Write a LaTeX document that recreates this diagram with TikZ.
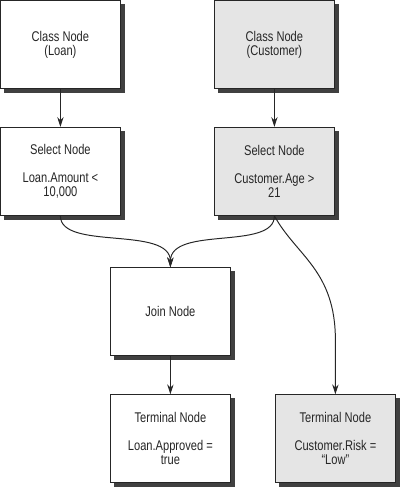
\documentclass[tikz,border=0pt]{standalone}
\usepackage{fontspec}
\setmainfont{Liberation Sans}[FakeStretch=0.79]
\usetikzlibrary{arrows.meta, positioning, shadows}

\begin{document}
\begin{tikzpicture}[
    node distance=3.175cm,
    netbox/.style={rectangle, draw=black!85, line width=0.7pt, fill=white, minimum width=3cm, minimum height=2.2cm, align=center, font=\fontsize{10}{10}\selectfont, text=black!85, copy shadow={shadow xshift=0.09cm, shadow yshift=-0.09cm, fill=black!75, draw=black!75}},
    graybox/.style={netbox, fill=black!10},
    arrow/.style={-{Stealth[length=7pt, width=4.5pt]}, line width=0.7pt, black!85}
]
\useasboundingbox (0,0) rectangle (10,-12.175);

\node[netbox] (classL) at (1.51,-1.11) {Class Node\\(Loan)};
\node[graybox, right of=classL, node distance=5.35cm] (classC) {Class Node\\(Customer)};
\node[netbox, below of=classL] (selL) {Select Node\\[10pt]Loan.Amount <\\10,000};
\node[graybox, below of=classC] (selC) {Select Node\\[10pt]Customer.Age >\\21};
\node[netbox, below of=selL, node distance=3.51cm, xshift=2.75cm] (join) {Join Node};
\node[netbox, below of=join] (termL) {Terminal Node\\[10pt]Loan.Approved =\\true};
\node[graybox, right of=termL, node distance=4.125cm] (termC) {Terminal Node\\[10pt]Customer.Risk =\\``Low''};

\draw[arrow] (classL) -- (selL);
\draw[arrow] (classC) -- (selC);
\draw[arrow] (selL.south) .. controls +(0,-0.875) and +(0,1.05) .. (join.north);
\draw[arrow] (selC.south) .. controls +(0,-0.875) and +(0,1.05) .. (join.north);
\draw[arrow] (join) -- (termL);
\draw[arrow] (selC.south) .. controls +(0.55,-1.0) and +(0,1.75) .. ([yshift=1.35cm]termC.north) -- (termC.north);

\end{tikzpicture}
\end{document}
